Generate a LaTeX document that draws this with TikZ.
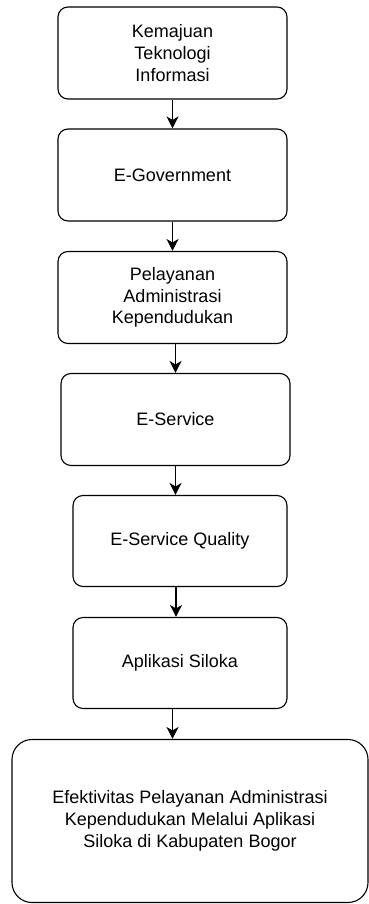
\documentclass[tikz,border=0pt]{standalone}
\usepackage{fontspec}
\setmainfont{Liberation Sans}
\usepackage{tikz}
\usetikzlibrary{arrows.meta}
\tikzstyle{block} = [rectangle, rounded corners=10pt, minimum width=229pt, minimum height=92pt, text centered, align=center, draw=black, line width=1.1pt, font=\fontsize{18}{21.7}\selectfont]
\tikzstyle{block2} = [block, minimum width=214pt, minimum height=91pt]
\tikzstyle{terminus} = [block, rounded corners=20pt, minimum width=356pt, minimum height=163pt]
\tikzstyle{arrow} = [line width=1.1pt,->,>={Stealth[length=12pt,width=12pt,inset=3.5pt]}]

\begin{document}
\begin{tikzpicture}[x=1pt, y=1pt, node distance=122pt]
        \useasboundingbox (0,0) rectangle (369,-904);
        \node (tekno) [block] at (172.5,-53) {Kemajuan\\Teknologi\\Informasi};
        \node (egov) [block, below of=tekno] {E-Government};
        \node (adminduk) [block, below of=egov, yshift=-0.5pt] {Pelayanan\\Administrasi\\Kependudukan};
        \node (eserv) [block, below of=adminduk, xshift=3pt] {E-Service};
        \node (esq) [block2, below of=eserv, xshift=4.5pt, yshift=0.5pt] {E-Service Quality};
        \node (siloka) [block2, below of=esq] {Aplikasi Siloka};
        \node (efek) [terminus, below of=siloka, xshift=10pt, yshift=-36pt] {Efektivitas Pelayanan Administrasi\\Kependudukan Melalui Aplikasi\\Siloka di Kabupaten Bogor};

        \draw [arrow] (tekno) -- (egov);
        \draw [arrow] (egov) -- (adminduk);
        \draw [arrow] (adminduk.south -| eserv.north) -- (eserv.north);
        \draw [arrow] (eserv.south) -- (esq.north -| eserv.south);
        \draw [arrow] ([xshift=-4pt]esq.south) -- ([xshift=-4pt]siloka.north);
        \draw [arrow] (siloka.south -| tekno.south) -- (efek.north -| tekno.south);
    \end{tikzpicture}
\end{document}
